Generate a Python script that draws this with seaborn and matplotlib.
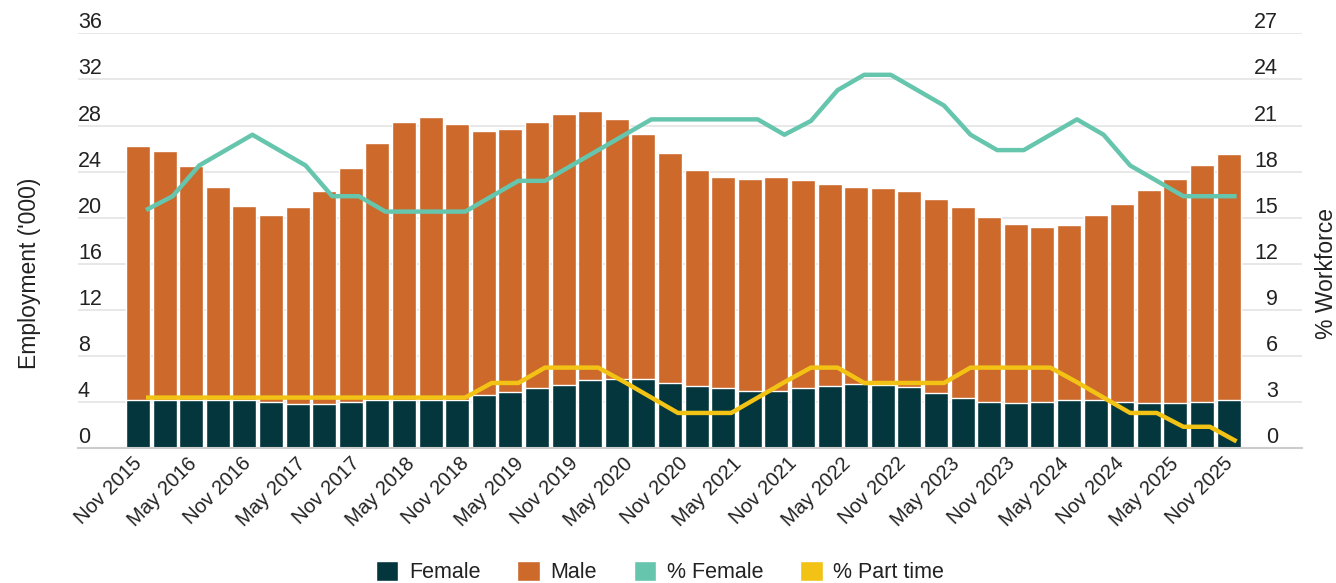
import matplotlib
matplotlib.use("Agg")
import matplotlib.pyplot as plt
from matplotlib.patches import Patch
import numpy as np
import pandas as pd
import seaborn as sns

# ── data ('000 and % of workforce) ──
tick_labels = [
    "Nov 2015", "May 2016", "Nov 2016", "May 2017", "Nov 2017", "May 2018",
    "Nov 2018", "May 2019", "Nov 2019", "May 2020", "Nov 2020", "May 2021",
    "Nov 2021", "May 2022", "Nov 2022", "May 2023", "Nov 2023", "May 2024",
    "Nov 2024", "May 2025", "Nov 2025",
]
female = [4.2, 4.2, 4.2, 4.2, 4.2, 4.0, 3.85, 3.85, 4.0, 4.2, 4.2, 4.2, 4.2, 4.6,
          4.9, 5.25, 5.5, 5.9, 6.0, 6.0, 5.65, 5.4, 5.25, 5.0, 5.0, 5.25, 5.4, 5.6,
          5.5, 5.35, 4.8, 4.4, 4.05, 3.95, 4.05, 4.2, 4.2, 4.05, 3.95, 3.95, 4.05, 4.2]
male = [22.0, 21.6, 20.3, 18.5, 16.8, 16.2, 17.05, 18.45, 20.3, 22.3, 24.1, 24.5,
        23.9, 22.9, 22.8, 23.05, 23.5, 23.4, 22.6, 21.3, 19.95, 18.7, 18.25, 18.4,
        18.5, 18.05, 17.5, 17.1, 17.1, 16.95, 16.8, 16.5, 16.05, 15.55, 15.15, 15.2,
        16.0, 17.15, 18.45, 19.45, 20.55, 21.3]
pct_female = [15.5, 16.4, 18.4, 19.4, 20.4, 19.4, 18.4, 16.4, 16.4, 15.4, 15.4, 15.4,
              15.4, 16.4, 17.4, 17.4, 18.4, 19.4, 20.4, 21.4, 21.4, 21.4, 21.4, 21.4,
              20.4, 21.3, 23.3, 24.3, 24.3, 23.3, 22.3, 20.4, 19.4, 19.4, 20.4, 21.4,
              20.4, 18.4, 17.4, 16.4, 16.4, 16.4]
pct_part_time = [3.3, 3.3, 3.3, 3.3, 3.3, 3.3, 3.3, 3.3, 3.3, 3.3, 3.3, 3.3, 3.3,
                 4.25, 4.25, 5.25, 5.25, 5.25, 4.3, 3.3, 2.3, 2.3, 2.3, 3.3, 4.3,
                 5.25, 5.25, 4.25, 4.25, 4.25, 4.25, 5.25, 5.25, 5.25, 5.25, 4.3,
                 3.3, 2.3, 2.3, 1.4, 1.4, 0.45]

FEMALE_C = "#03363d"
MALE_C = "#cc692b"
PCT_FEMALE_C = "#66c5ad"
PART_TIME_C = "#f2c314"
TEXT_C = "#222222"
LINE_SHIFT = 0.3   # lines sit a little right of the bar centres in the original

sns.set_style("white")
plt.rcParams["font.family"] = ["Liberation Sans", "DejaVu Sans"]

df = pd.DataFrame({
    "pos": np.arange(len(female)),
    "female": female,
    "male": male,
    "pct_female": pct_female,
    "pct_part_time": pct_part_time,
})
df["total"] = df["female"] + df["male"]

W, H = 1336, 583
fig = plt.figure(figsize=(W / 100, H / 100), dpi=100)
ax = fig.add_axes([78 / W, (H - 448.3) / H, 1224 / W, 415 / H])

# stacked bars: total in male colour, female drawn over it
sns.barplot(data=df, x="pos", y="total", color=MALE_C, saturation=1,
            width=0.9, errorbar=None, ax=ax, zorder=2)
sns.barplot(data=df, x="pos", y="female", color=FEMALE_C, saturation=1,
            width=0.9, errorbar=None, ax=ax, zorder=2)

ax2 = ax.twinx()
sns.lineplot(x=df["pos"] + LINE_SHIFT, y=df["pct_female"], color=PCT_FEMALE_C,
             linewidth=3.2, solid_capstyle="butt", ax=ax2)
sns.lineplot(x=df["pos"] + LINE_SHIFT, y=df["pct_part_time"], color=PART_TIME_C,
             linewidth=3.2, solid_capstyle="butt", ax=ax2)

ax.set_xlim(-2.256, 43.76)
ax.set_ylim(0, 36)
ax2.set_ylim(0, 27)
ax.set_yticks(range(0, 37, 4))
ax2.set_yticks(range(0, 28, 3))

tick_pos = np.linspace(LINE_SHIFT, len(female) - 1 + LINE_SHIFT, len(tick_labels))
ax.set_xticks(tick_pos)
ax.set_xticklabels(tick_labels, rotation=45, ha="right", fontsize=14.5, color=TEXT_C)
ax.tick_params(axis="x", length=0, pad=4)

ax.tick_params(axis="y", length=0, pad=0, labelsize=15.5, labelcolor=TEXT_C)
plt.setp(ax.get_yticklabels(), ha="left", va="bottom")
ax2.tick_params(axis="y", length=0, pad=-17.3, labelsize=15.5, labelcolor=TEXT_C)
plt.setp(ax2.get_yticklabels(), ha="right", va="bottom")

ax.yaxis.grid(True, color="#e4e4e4", linewidth=1.2)
ax.xaxis.grid(False)
ax.set_axisbelow(True)

ax.set_xlabel("")
ax.set_ylabel("Employment ('000)", fontsize=16.5, color=TEXT_C)
ax.yaxis.set_label_coords(-0.030, 0.4224)
ax2.set_ylabel("% Workforce", fontsize=16.5, color=TEXT_C)
ax2.yaxis.set_label_coords(1.011, 0.4224)

sns.despine(ax=ax, left=True)
ax.spines["bottom"].set_color("#cccccc")
ax.spines["bottom"].set_linewidth(1.5)
for s in ax2.spines.values():
    s.set_visible(False)

handles = [
    Patch(facecolor=FEMALE_C, label="Female"),
    Patch(facecolor=MALE_C, label="Male"),
    Patch(facecolor=PCT_FEMALE_C, label="% Female"),
    Patch(facecolor=PART_TIME_C, label="% Part time"),
]
fig.legend(handles=handles, loc="center", bbox_to_anchor=(0.494, 0.019), ncol=4,
           frameon=False, fontsize=15.5, handlelength=1.05, handleheight=1.05,
           handletextpad=0.5, columnspacing=1.7, labelcolor=TEXT_C)

fig.savefig("out.png", dpi=100)
